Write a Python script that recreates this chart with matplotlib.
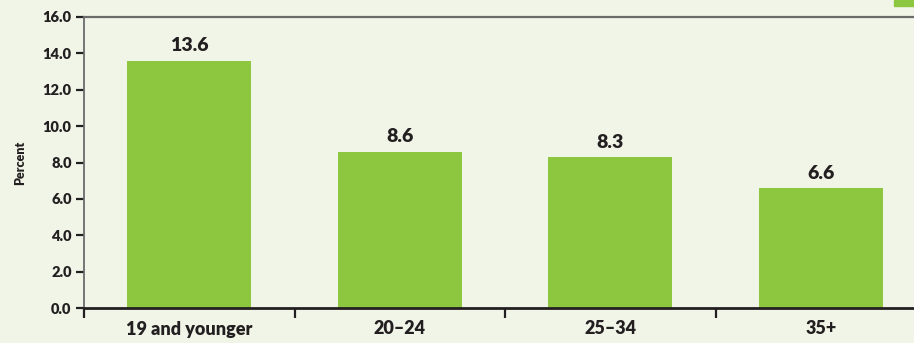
import matplotlib
matplotlib.use("Agg")
import matplotlib.pyplot as plt
from matplotlib.patches import Rectangle

categories = ["19 and younger", "20\u201324", "25\u201334", "35+"]
values = [13.6, 8.6, 8.3, 6.6]
yticks = [0, 2, 4, 6, 8, 10, 12, 14, 16]

BG = "#f0f5e8"
GREEN = "#8dc63f"
INK = "#231f20"

plt.rcParams["font.family"] = ["Lato", "DejaVu Sans"]
plt.rcParams["font.weight"] = "bold"

fig = plt.figure(figsize=(9.14, 3.43), dpi=100, facecolor=BG)
W, H = 914, 343
ax = fig.add_axes([84 / W, 35 / H, (926 - 84) / W, 291 / H], facecolor=BG)

x = list(range(len(categories)))
ax.bar(x, values, width=0.59, color=GREEN, zorder=2)
for xi, v in zip(x, values):
    ax.text(xi, v + 0.35, f"{v:.1f}", ha="center", va="bottom",
            fontsize=14, fontweight="heavy", color=INK)

ax.set_xlim(-0.5, len(categories) - 0.5)
ax.set_ylim(0, 16)
ax.set_yticks(yticks)
ax.set_yticklabels([f"{t:.1f}" for t in yticks], fontsize=10.5, fontweight="heavy", color=INK)

# category boundaries carry the ticks; labels sit at the centres
ax.set_xticks([i - 0.5 for i in range(len(categories) + 1)])
ax.set_xticklabels([])
ax.set_xticks(x, minor=True)
ax.set_xticklabels(categories, minor=True, fontsize=13, fontweight="heavy", color=INK)
ax.tick_params(axis="x", which="major", direction="out", length=7, width=1.6, color=INK)
ax.tick_params(axis="x", which="minor", length=0, pad=9)
ax.tick_params(axis="y", direction="out", length=6, width=1.6, color=INK, pad=3)

ax.spines["bottom"].set_color(INK)
ax.spines["bottom"].set_linewidth(2)
ax.spines["left"].set_color("#6b6b6b")
ax.spines["left"].set_linewidth(1.3)
ax.spines["top"].set_color("#6b6b6b")
ax.spines["top"].set_linewidth(1.6)
ax.spines["right"].set_visible(False)

ax.set_ylabel("Percent", fontsize=9, fontweight="heavy", color=INK, labelpad=12)

# legend swatch peeking in at the top right
fig.patches.append(Rectangle((894 / W, 1 - 6 / H), 22 / W, 6 / H,
                             transform=fig.transFigure, color=GREEN, zorder=5))

fig.savefig("out.png", dpi=100, facecolor=BG)
